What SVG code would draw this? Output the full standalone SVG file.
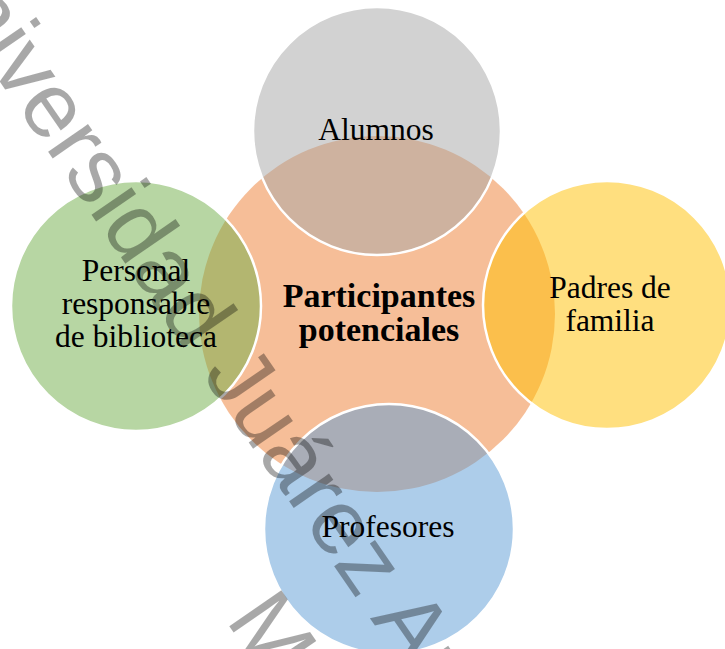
<svg xmlns="http://www.w3.org/2000/svg" width="725" height="649" viewBox="0 0 725 649">
<style>
.c{stroke:#ffffff;stroke-width:2.5;}
.ct{fill:#ED7D31;fill-opacity:0.5;}
.t{font-family:"Liberation Serif","Times New Roman",serif;font-size:31.5px;fill:#000;text-anchor:middle;}
.b{font-family:"Liberation Serif","Times New Roman",serif;font-size:34px;font-weight:bold;fill:#000;text-anchor:middle;}
.wm{font-family:"Liberation Sans",Arial,sans-serif;font-size:92px;fill:#000;fill-opacity:0.34;}
</style>
<rect width="725" height="649" fill="#ffffff"/>
<g id="center">
<circle class="ct" cx="377" cy="314" r="178"/>
</g>
<g id="alumnos">
<circle class="c" cx="377" cy="131" r="124" fill="#A5A5A5" fill-opacity="0.5"/>
<text class="t" x="376" y="140">Alumnos</text>
</g>
<g id="padres">
<circle class="c" cx="607" cy="305" r="124" fill="#FFC000" fill-opacity="0.5"/>
<text class="t" x="610" y="298">Padres de</text>
<text class="t" x="610" y="331">familia</text>
</g>
<g id="profesores">
<circle class="c" cx="389" cy="529" r="125" fill="#5B9BD5" fill-opacity="0.5"/>
<text class="t" x="388" y="537">Profesores</text>
</g>
<g id="personal">
<circle class="c" cx="136" cy="306" r="125" fill="#70AD47" fill-opacity="0.5"/>
<text class="t" x="136" y="281">Personal</text>
<text class="t" x="136" y="314">responsable</text>
<text class="t" x="136" y="347">de biblioteca</text>
</g>
<g id="center-label">
<text class="b" x="379" y="307">Participantes</text>
<text class="b" x="379" y="341">potenciales</text>
</g>
<g id="connectors"></g>
<g id="watermark">
<text class="wm" transform="translate(-89,-47) rotate(55.4)" x="0" y="0">Universidad Juárez Autónoma de Tabasco</text>
<text class="wm" transform="translate(225,620) rotate(55.4)" x="0" y="0">M</text>
</g>
</svg>
